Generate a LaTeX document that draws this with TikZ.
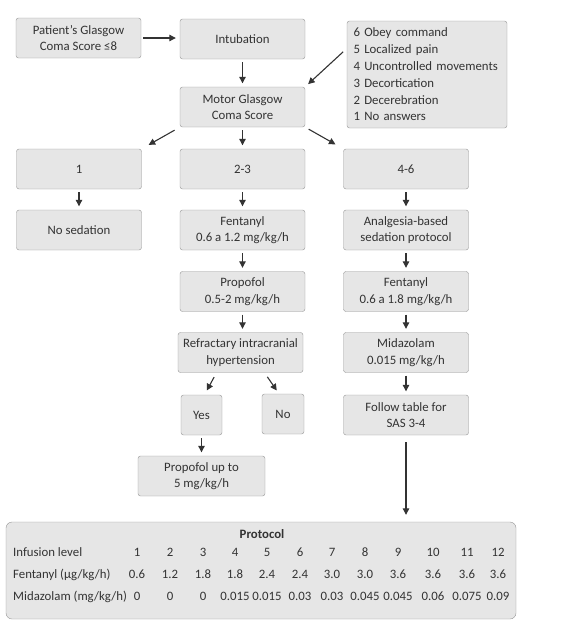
\documentclass[tikz,border=0pt]{standalone}
\usepackage{fontspec}
\setmainfont{Carlito}
\usetikzlibrary{arrows.meta}

\definecolor{boxfill}{HTML}{E6E6E6}
\definecolor{boxline}{HTML}{959595}
\definecolor{ink}{HTML}{333333}

\begin{document}
\begin{tikzpicture}[x=1pt, y=-1pt,
  box/.style={draw=boxline, fill=boxfill, rounded corners=2.5pt, align=center, text=ink,
              font=\fontsize{12.8}{16.6}\selectfont, inner sep=0pt,
              minimum width=125pt, minimum height=40pt},
  arr/.style={-{Triangle[length=6.5pt,width=6.5pt]}, draw=ink, line width=1.1pt,
              shorten <=3pt, shorten >=3.5pt},
  cell/.style={text=ink, font=\fontsize{12.8}{15}\selectfont, inner sep=0pt, anchor=mid}]
\useasboundingbox (0,0) rectangle (566,637);

% top rows
\node[box] (patient) at (78.5,38) {Patient's Glasgow\\Coma Score ≤8};
\node[box] (intub) at (242.5,39) {Intubation};
\node[box, align=left, text width=147pt, inner xsep=6.5pt, minimum width=160pt,
      minimum height=107pt, font=\fontsize{12.8}{16.8}\selectfont] (scores) at (427,74.5)
  {6 Obey command\\5 Localized pain\\4 Uncontrolled movements\\3 Decortication\\2 Decerebration\\1 No answers};
\node[box] (motor) at (242.5,107) {Motor Glasgow\\Coma Score};

% branches
\node[box] (one) at (79,169) {1};
\node[box] (twothree) at (242.5,169) {2-3};
\node[box] (fourSix) at (406,169) {4-6};
\node[box] (nosed) at (79,230) {No sedation};
\node[box] (fent) at (242.5,230) {Fentanyl\\0.6 a 1.2 mg/kg/h};
\node[box] (analg) at (406,230) {Analgesia-based\\sedation protocol};
\node[box] (prop) at (242.5,291.5) {Propofol\\0.5-2 mg/kg/h};
\node[box] (fentb) at (406,291.5) {Fentanyl\\0.6 a 1.8 mg/kg/h};
\node[box] (refr) at (240.5,352.5) {Refractary intracranial\\hypertension};
\node[box] (mida) at (406,352.5) {Midazolam\\0.015 mg/kg/h};
\node[box, minimum width=41pt] (yes) at (201.5,415) {Yes};
\node[box, minimum width=42pt] (no) at (283,414) {No};
\node[box] (follow) at (406,415) {Follow table for\\SAS 3-4};
\node[box, minimum width=127pt] (propup) at (201.5,476) {Propofol up to\\5 mg/kg/h};

% protocol table
\node[box, minimum width=510pt, minimum height=97pt, rounded corners=6pt] (proto) at (261,570.5) {};
\node[cell, font=\fontsize{12.8}{15}\selectfont\bfseries] (prototitle) at (262,536) {Protocol};
\node[cell, anchor=mid west] (rowlvl) at (13,554) {Infusion level};
\node[cell, anchor=mid west] (rowfen) at (13,576) {Fentanyl (µg/kg/h)};
\node[cell, anchor=mid west] (rowmdz) at (13,598) {Midazolam (mg/kg/h)};
\foreach \lvl/\xc/\fen/\mdz in {1/137/0.6/0, 2/170/1.2/0, 3/203/1.8/0, 4/235/1.8/0.015,
    5/267/2.4/0.015, 6/300/2.4/0.03, 7/332/3.0/0.03, 8/365/3.0/0.045, 9/398/3.6/0.045,
    10/433/3.6/0.06, 11/467/3.6/0.075, 12/498/3.6/0.09}
{
  \node[cell] (lvl\lvl) at (\xc,554) {\lvl};
  \node[cell] (fen\lvl) at (\xc,576) {\fen};
  \node[cell] (mdz\lvl) at (\xc,598) {\mdz};
}

% connectors
\draw[arr, shorten <=2pt, shorten >=4pt] (patient.east) -- (patient.east -| intub.west);
\draw[arr] (intub) -- (motor);
\draw[arr, shorten <=5pt, shorten >=4pt] (scores.162) -- (motor.north east);
\draw[arr, shorten <=6pt, shorten >=8pt] (motor.south west) -- (one.north east);
\draw[arr] (motor) -- (twothree);
\draw[arr, shorten <=4pt, shorten >=9pt] (motor.south east) -- (fourSix.north west);
\draw[arr] (one) -- (nosed);
\draw[arr] (twothree) -- (fent);
\draw[arr] (fourSix) -- (analg);
\draw[arr] (fent) -- (prop);
\draw[arr] (analg) -- (fentb);
\draw[arr] (prop) -- (prop |- refr.north);
\draw[arr] (fentb) -- (mida);
\draw[arr, shorten <=5pt, shorten >=5pt] ([xshift=-24pt]refr.south) -- ([xshift=3pt]yes.north);
\draw[arr, shorten <=5pt, shorten >=4pt] ([xshift=24pt]refr.south) -- ([xshift=-4pt]no.north);
\draw[arr] (mida) -- (follow);
\draw[arr] (yes) -- (yes |- propup.north);
\draw[arr, shorten <=7pt, shorten >=7pt] (follow.south) -- (follow.south |- proto.north);
\end{tikzpicture}
\end{document}
